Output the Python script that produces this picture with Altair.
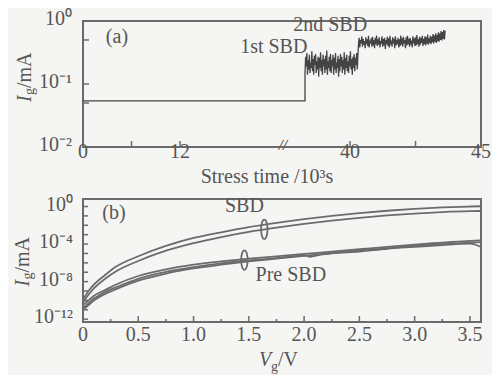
import altair as alt
import numpy as np
import pandas as pd

FONT = "Liberation Serif"
INK = "#555555"
LINE = "#6b6b6b"
DARK = "#444444"
BG = "#f5f5f3"

# ---------------- panel (a): Ig vs stress time (10^3 s) ----------------
a_flat_t = [0.0, 24.74, 37.44, 38.28]
a_flat_ig = [0.054, 0.054, 0.054, 0.054]

a_sbd1_span = [38.28, 40.30]
a_sbd1_ig = [0.15, 0.27, 0.19, 0.31, 0.14, 0.24, 0.17, 0.29, 0.15, 0.22, 0.18, 0.33,
             0.16, 0.25, 0.14, 0.28, 0.20, 0.30, 0.15, 0.23, 0.17, 0.27, 0.13, 0.26,
             0.18, 0.32, 0.16, 0.24, 0.14, 0.29, 0.19, 0.25, 0.15, 0.28, 0.17, 0.34,
             0.14, 0.23, 0.18, 0.27, 0.16, 0.30, 0.15, 0.24, 0.19, 0.29, 0.14, 0.26,
             0.17, 0.31, 0.15, 0.22, 0.18, 0.28, 0.13, 0.25, 0.16, 0.30, 0.19, 0.27,
             0.15, 0.24, 0.17, 0.32, 0.14, 0.26, 0.18, 0.29, 0.16, 0.23, 0.15, 0.28,
             0.19, 0.33, 0.17, 0.25, 0.14, 0.27, 0.18, 0.30, 0.16, 0.26, 0.20, 0.31,
             0.17, 0.28]

a_sbd2_span = [40.32, 43.63]
a_sbd2_ig = [0.41, 0.54, 0.38, 0.50, 0.44, 0.57, 0.39, 0.52, 0.42, 0.48, 0.37, 0.55,
             0.43, 0.51, 0.40, 0.58, 0.38, 0.49, 0.44, 0.53, 0.39, 0.56, 0.41, 0.50,
             0.37, 0.54, 0.43, 0.59, 0.40, 0.51, 0.42, 0.55, 0.38, 0.48, 0.44, 0.57,
             0.39, 0.52, 0.41, 0.54, 0.36, 0.50, 0.43, 0.56, 0.40, 0.53, 0.38, 0.58,
             0.42, 0.49, 0.39, 0.55, 0.44, 0.52, 0.37, 0.57, 0.41, 0.50, 0.43, 0.54,
             0.38, 0.51, 0.40, 0.59, 0.42, 0.53, 0.39, 0.56, 0.44, 0.50, 0.37, 0.55,
             0.41, 0.58, 0.43, 0.52, 0.39, 0.54, 0.42, 0.49, 0.38, 0.57, 0.44, 0.53,
             0.40, 0.55, 0.41, 0.60, 0.43, 0.51, 0.39, 0.56, 0.42, 0.54, 0.45, 0.58,
             0.40, 0.52, 0.43, 0.57, 0.41, 0.55, 0.44, 0.61, 0.42, 0.53, 0.45, 0.58,
             0.43, 0.56, 0.46, 0.62, 0.44, 0.59, 0.47, 0.64, 0.45, 0.60, 0.48, 0.66,
             0.47, 0.63, 0.50, 0.69, 0.49, 0.67, 0.52, 0.72, 0.51, 0.70]

a_x_labels = [0, 12, 40, 45]
a_x_tickmarks = [6, 12, 40, 42.5]
a_y_labels = [0.01, 0.1, 1]
a_y_labeltext = ["10⁻²", "10⁻¹", "10⁰"]
a_y_tickmarks = [0.05, 0.1, 0.5]
a_break = [24.74, 37.44]   # broken-axis gap in 10^3 s

a_notes_text = ["(a)", "1st SBD", "2nd SBD"]
a_notes_t = [4.2, 23.6, 39.24]
a_notes_ig = [0.50, 0.35, 0.77]

# ---------------- panel (b): Ig vs Vg ----------------
b_v = [0, 0.05, 0.1, 0.2, 0.3, 0.5, 0.75, 1.0, 1.25, 1.5, 1.75, 2.0, 2.25, 2.5,
       2.75, 3.0, 3.25, 3.5, 3.6]
b_sbd_hi = [-9.9, -9.0, -8.3, -7.3, -6.4, -5.3, -4.2, -3.35, -2.75, -2.2, -1.75,
            -1.35, -1.0, -0.7, -0.45, -0.25, -0.1, 0.0, 0.03]
b_sbd_lo = [-10.2, -9.4, -8.7, -7.7, -6.9, -5.8, -4.7, -3.9, -3.25, -2.7, -2.25,
            -1.85, -1.5, -1.2, -0.95, -0.75, -0.6, -0.5, -0.48]
b_pre_a = [-10.5, -10.0, -9.5, -8.9, -8.3, -7.4, -6.7, -6.2, -5.85, -5.55, -5.3,
           -5.05, -4.8, -4.55, -4.3, -4.05, -3.85, -3.65, -3.6]
b_pre_b_v = [0, 0.05, 0.1, 0.2, 0.3, 0.5, 0.75, 1.0, 1.25, 1.5, 1.75, 2.0, 2.06,
             2.12, 2.25, 2.5, 2.75, 3.0, 3.25, 3.5, 3.6]
b_pre_b = [-10.8, -10.3, -9.8, -9.1, -8.6, -7.7, -6.95, -6.45, -6.05, -5.75, -5.5,
           -5.2, -5.35, -5.2, -5.0, -4.8, -4.5, -4.3, -4.1, -3.95, -4.3]
b_pre_c = [-11.0, -10.5, -10.0, -9.3, -8.8, -7.9, -7.15, -6.6, -6.2, -5.85, -5.55,
           -5.25, -4.95, -4.7, -4.45, -4.2, -4.0, -3.85, -3.8]

b_x_labels = [0, 0.5, 1.0, 1.5, 2.0, 2.5, 3.0, 3.5]
b_x_labeltext = ["0", "0.5", "1.0", "1.5", "2.0", "2.5", "3.0", "3.5"]
b_x_major = [0.5, 1.0, 1.5, 2.0, 2.5, 3.0, 3.5]
b_x_minor = [0.25, 0.75, 1.25, 1.75, 2.25, 2.75, 3.25]
b_y_labelexp = [-12, -8, -4, 0]
b_y_labeltext = ["10⁻¹²", "10⁻⁸", "10⁻⁴", "10⁰"]
b_y_tickexp = [-12, -11, -10, -9, -8, -7, -6, -5, -4, -3, -2, -1, 0]

b_notes_text = ["(b)", "SBD", "Pre SBD"]
b_notes_v = [0.28, 1.46, 1.88]
b_notes_exp = [-0.9, -0.19, -7.47]
b_ell_v = [1.64, 1.46]
b_ell_exp = [-2.43, -5.70]

# ---------------- build tables ----------------
t1 = np.linspace(a_sbd1_span[0], a_sbd1_span[1], len(a_sbd1_ig))
t2 = np.linspace(a_sbd2_span[0], a_sbd2_span[1], len(a_sbd2_ig))
df_a = pd.DataFrame({
    "t": list(a_flat_t) + list(t1) + list(t2),
    "ig": list(a_flat_ig) + list(a_sbd1_ig) + list(a_sbd2_ig),
})
df_a["k"] = range(len(df_a))

rows = []
for name, vs, ls in [("sbd_hi", b_v, b_sbd_hi), ("sbd_lo", b_v, b_sbd_lo),
                     ("pre_a", b_v, b_pre_a), ("pre_b", b_pre_b_v, b_pre_b),
                     ("pre_c", b_v, b_pre_c)]:
    for i, (v, l) in enumerate(zip(vs, ls)):
        rows.append({"curve": name, "v": v, "ig": 10 ** l, "k": i})
df_b = pd.DataFrame(rows)

WA, HA = 398, 126
WB, HB = 398, 123

xs_a = alt.Scale(domain=[0, a_break[0], a_break[1], 45],
                 range=[0, 200, 200, WA], nice=False, zero=False)
ys_a = alt.Scale(type="log", domain=[0.01, 1], nice=False)
xs_b = alt.Scale(domain=[0, 3.6], nice=False, zero=False)
ys_b = alt.Scale(type="log", domain=[10 ** -12.3, 10 ** 0.8], nice=False)

one = pd.DataFrame({"z": [0]})


def txt(s, x, y, size=20, style="normal", angle=0, align="center", weight="normal"):
    m = alt.Chart(one).mark_text(text=s, font=FONT, fontSize=size, fontStyle=style,
                                 fontWeight=weight, angle=angle, align=align,
                                 baseline="middle", color=INK)
    return m.encode(x=alt.value(x), y=alt.value(y))


def label_text(**kw):
    return dict(font=FONT, fontSize=20, color=INK, baseline="middle", **kw)


# ---- panel (a) layers
line_a = alt.Chart(df_a).mark_line(color=DARK, strokeWidth=1.3).encode(
    x=alt.X("t:Q", scale=xs_a, axis=None),
    y=alt.Y("ig:Q", scale=ys_a, axis=None),
    order="k:Q")

xlab_a = alt.Chart(pd.DataFrame({"t": a_x_labels})).mark_text(
    **label_text(align="center")).encode(
    x=alt.X("t:Q", scale=xs_a, axis=None), y=alt.value(HA + 5), text=alt.Text("t:Q", format="d"))
ylab_a = alt.Chart(pd.DataFrame({"ig": a_y_labels, "s": a_y_labeltext})).mark_text(
    **label_text(align="right", dy=-2)).encode(
    y=alt.Y("ig:Q", scale=ys_a, axis=None), x=alt.value(-11), text="s:N")

xt_a = alt.Chart(pd.DataFrame({"t": a_x_tickmarks})).mark_rule(
    color=LINE, strokeWidth=1.5).encode(
    x=alt.X("t:Q", scale=xs_a, axis=None), y=alt.value(HA), y2=alt.value(HA - 6))
yt_a = alt.Chart(pd.DataFrame({"ig": a_y_tickmarks})).mark_rule(
    color=LINE, strokeWidth=1.5).encode(
    y=alt.Y("ig:Q", scale=ys_a, axis=None), x=alt.value(0), x2=alt.value(6))

notes_a = alt.Chart(pd.DataFrame({"s": a_notes_text, "t": a_notes_t, "ig": a_notes_ig})
                    ).mark_text(**label_text(dy=-3)).encode(
    x=alt.X("t:Q", scale=xs_a, axis=None), y=alt.Y("ig:Q", scale=ys_a, axis=None), text="s:N")

brk = txt("//", 200, HA - 2, size=15, style="italic", weight="bold")
xtitle_a = txt("Stress time /10³s", 184, HA + 30)
yc = HA / 2 - 8
ytitle_a = [txt("I", -58, yc + 26, style="italic", angle=270, align="left"),
            txt("g", -53, yc + 19, size=14, angle=270, align="left"),
            txt("/mA", -58, yc + 12, angle=270, align="left")]

panel_a = alt.layer(line_a, xt_a, yt_a, xlab_a, ylab_a, notes_a, brk, xtitle_a,
                    *ytitle_a).properties(width=WA, height=HA)

# ---- panel (b) layers
lines_b = alt.Chart(df_b).mark_line(color=LINE, strokeWidth=1.8, interpolate="monotone").encode(
    x=alt.X("v:Q", scale=xs_b, axis=None),
    y=alt.Y("ig:Q", scale=ys_b, axis=None),
    detail="curve:N", order="k:Q")

xlab_b = alt.Chart(pd.DataFrame({"v": b_x_labels, "s": b_x_labeltext})).mark_text(
    **label_text(align="center")).encode(
    x=alt.X("v:Q", scale=xs_b, axis=None), y=alt.value(HB + 13), text="s:N")
ylab_b = alt.Chart(pd.DataFrame({"e": b_y_labelexp, "s": b_y_labeltext})).transform_calculate(
    ig="pow(10, datum.e)").mark_text(**label_text(align="right", dy=-2)).encode(
    y=alt.Y("ig:Q", scale=ys_b, axis=None), x=alt.value(-10), text="s:N")

xt_b1 = alt.Chart(pd.DataFrame({"v": b_x_major})).mark_rule(color=LINE, strokeWidth=1.5).encode(
    x=alt.X("v:Q", scale=xs_b, axis=None), y=alt.value(HB), y2=alt.value(HB - 6))
xt_b2 = alt.Chart(pd.DataFrame({"v": b_x_minor})).mark_rule(color=LINE, strokeWidth=1.5).encode(
    x=alt.X("v:Q", scale=xs_b, axis=None), y=alt.value(HB), y2=alt.value(HB - 3))
yt_b = alt.Chart(pd.DataFrame({"e": b_y_tickexp})).transform_calculate(
    ig="pow(10, datum.e)").mark_rule(color=LINE, strokeWidth=1.5).encode(
    y=alt.Y("ig:Q", scale=ys_b, axis=None), x=alt.value(0), x2=alt.value(5))

notes_b = alt.Chart(pd.DataFrame({"s": b_notes_text, "v": b_notes_v, "e": b_notes_exp})
                    ).transform_calculate(ig="pow(10, datum.e)").mark_text(
    **label_text(dy=-2)).encode(
    x=alt.X("v:Q", scale=xs_b, axis=None), y=alt.Y("ig:Q", scale=ys_b, axis=None), text="s:N")

ELL = "M -0.33 0 A 0.33 1 0 1 0 0.33 0 A 0.33 1 0 1 0 -0.33 0 Z"
ell_b = alt.Chart(pd.DataFrame({"v": b_ell_v, "e": b_ell_exp})).transform_calculate(
    ig="pow(10, datum.e)").mark_point(shape=ELL, size=380, filled=False, color=LINE,
                                      strokeWidth=1.8, opacity=1).encode(
    x=alt.X("v:Q", scale=xs_b, axis=None), y=alt.Y("ig:Q", scale=ys_b, axis=None))

xtitle_b = [txt("V", 176, HB + 38, style="italic", align="left"),
            txt("g", 188, HB + 45, size=14, align="left"),
            txt("/V", 195, HB + 38, align="left")]
ycb = HB / 2
ytitle_b = [txt("I", -60, ycb + 26, style="italic", angle=270, align="left"),
            txt("g", -55, ycb + 19, size=14, angle=270, align="left"),
            txt("/mA", -60, ycb + 12, angle=270, align="left")]

panel_b = alt.layer(lines_b, xt_b1, xt_b2, yt_b, xlab_b, ylab_b, notes_b, ell_b,
                    *xtitle_b, *ytitle_b).properties(width=WB, height=HB)

chart = alt.vconcat(panel_a, panel_b, spacing=5).properties(
    background=BG, padding={"left": 4, "top": 0, "right": 0, "bottom": 0}
).configure_view(stroke=LINE, strokeWidth=2)

chart.save("out.html", embed_options={"renderer": "svg", "actions": False})
